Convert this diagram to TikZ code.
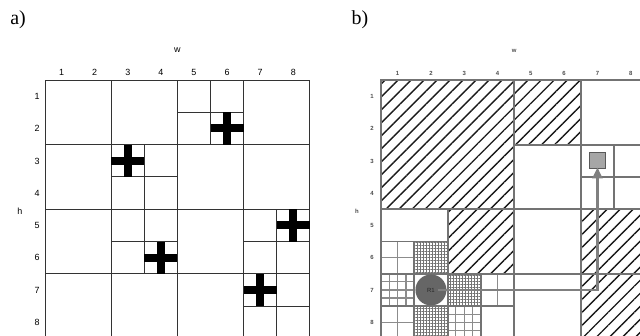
\documentclass[tikz,border=0pt]{standalone}
\usepackage{fontspec}
\setmainfont{Liberation Serif}
\setsansfont{Liberation Sans}
\usetikzlibrary{patterns.meta,arrows.meta}

\begin{document}
\begin{tikzpicture}[x=1bp,y=-1bp,
        pnl/.style={font=\fontsize{20}{24}\selectfont},
        lbl/.style={font=\sffamily\fontsize{9}{10}\selectfont, text height=6.5bp, text depth=0pt},
        slbl/.style={font=\sffamily\bfseries\fontsize{6}{7}\selectfont, text=black!70,
            text height=4.5bp, text depth=0pt},
        agrid/.style={draw=black!80, line width=0.9bp},
        bgrid/.style={draw=black!55, line width=1.8bp},
        fine/.style={draw=black!45, line width=1.1bp},
        hatch/.style={pattern={Lines[angle=45,distance=9.2bp,line width=1.4bp]}, pattern color=black!90},
        xhatch/.style={pattern={Hatch[angle=0,distance=3bp,line width=0.7bp]}, pattern color=black!55},
        robot/.style={circle, fill=black!60, minimum size=31bp, inner sep=0pt,
            font=\sffamily\fontsize{6}{7}\selectfont, text=black!85},
        goal/.style={draw=black!65, fill=black!35, line width=1.4bp, minimum size=16bp, inner sep=0pt},
        route/.style={draw=black!50, line width=2.2bp, -{Triangle[length=11bp,width=10bp]}}]
    \useasboundingbox (0,0) rectangle (640,335);
    \clip (0,0) rectangle (640,335);

    \node[pnl] (pa) at (18,20) {a)};
    \node[pnl] (pb) at (360,20) {b)};

    % a) quadtree with obstacles
    \begin{scope}[shift={(45,80)}, x=33.1bp, y=-32.3bp]
        \node[lbl] (wa) at (4,-0.95) {w};
        \node[lbl] (ha) at (-0.76,4.06) {h};
        \foreach \i in {1,...,8} {
            \node[lbl] (ca\i) at (\i-0.5,-0.25) {\i};
            \node[lbl] (ra\i) at (-0.24,\i-0.5) {\i};
        }
        \foreach \k in {0,2,...,8} {
            \draw[agrid] (\k,0) -- (\k,8.2);
            \draw[agrid] (0,\k) -- (8,\k);
        }
        \foreach \bx/\by in {4/0,2/2,2/4,6/4,6/6} {
            \draw[agrid] (\bx+1,\by) -- (\bx+1,\by+2);
            \draw[agrid] (\bx,\by+1) -- (\bx+2,\by+1);
        }
        \foreach \cx/\cy in {6/2,3/3,8/5,4/6,7/7} {
            \fill (\cx-1,\cy-0.625) rectangle (\cx,\cy-0.375);
            \fill (\cx-0.625,\cy-1) rectangle (\cx-0.375,\cy);
        }
    \end{scope}

    % b) cells and path
    \begin{scope}[shift={(381,80)}, x=33.3bp, y=-32.3bp]
        \node[slbl] (wb) at (4,-0.93) {w};
        \node[slbl] (hb) at (-0.72,4.06) {h};
        \foreach \i in {1,...,8} {
            \node[slbl] (cb\i) at (\i-0.5,-0.22) {\i};
            \node[slbl] (rb\i) at (-0.27,\i-0.5) {\i};
        }
        \fill[hatch] (0,0) rectangle (4,4) (4,0) rectangle (6,2)
            (2,4) rectangle (4,6) (6,4) rectangle (8,8);
        \fill[xhatch] (1,5) rectangle (2,6) (2,6) rectangle (3,7) (1,7) rectangle (2,8);
        \foreach \x/\y in {0/5,3/6,0/7} {
            \draw[fine] (\x+0.5,\y) -- (\x+0.5,\y+1) (\x,\y+0.5) -- (\x+1,\y+0.5);
        }
        \foreach \x/\y in {0/6,2/7} {
            \foreach \t in {0.25,0.5,0.75} {
                \draw[fine] (\x+\t,\y) -- (\x+\t,\y+1) (\x,\y+\t) -- (\x+1,\y+\t);
            }
        }
        \foreach \x/\y/\w/\h in {0/0/4/4, 4/0/2/2, 6/0/2/2, 4/2/2/2, 6/2/1/1, 7/2/1/1,
                6/3/1/1, 7/3/1/1, 0/4/2/1, 0/5/1/1, 1/5/1/1, 2/4/2/2, 4/4/2/2, 6/4/2/2,
                0/6/1/1, 1/6/1/1, 2/6/1/1, 3/6/1/1, 0/7/1/1, 1/7/1/1, 2/7/1/1, 3/7/1/1,
                4/6/2/2, 6/6/2/2} {
            \draw[bgrid] (\x,\y) rectangle ++(\w,\h);
        }
        \node[goal] (tgt) at (6.5,2.5) {};
        \node[robot] (r1) at (1.5,6.5) {R1\hspace{6bp}};
        \draw[route] ([xshift=7bp]r1.center) -| ([yshift=2bp]tgt.south);
    \end{scope}
\end{tikzpicture}
\end{document}
